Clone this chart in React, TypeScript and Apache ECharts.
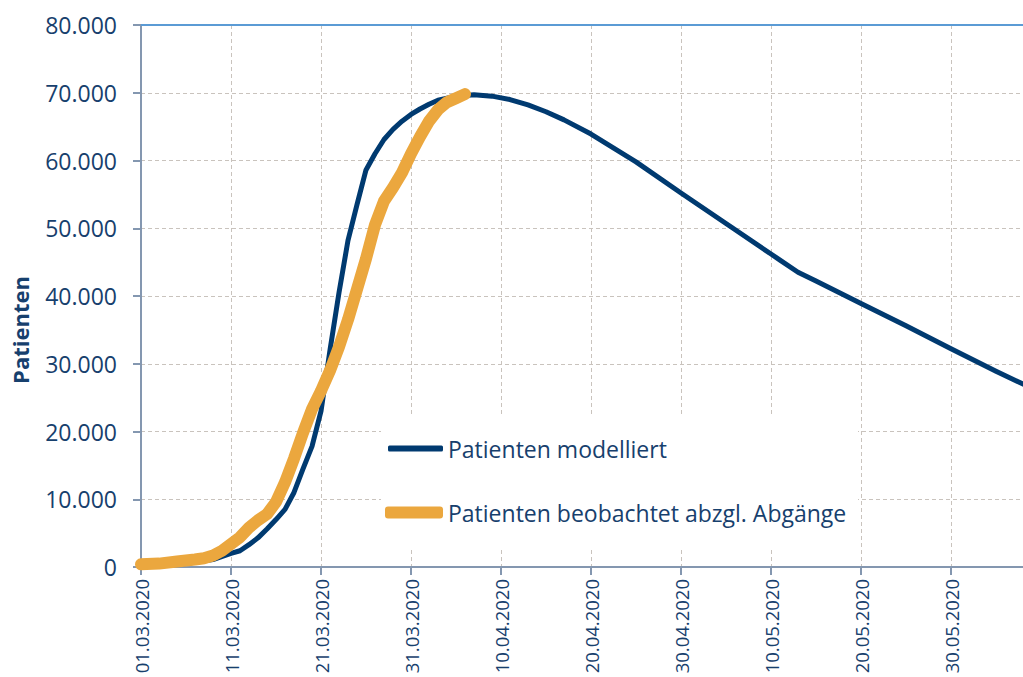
import React, { useEffect, useRef } from "react";
import * as echarts from "echarts";

// Day offsets from 01.03.2020
const modelDays = [0, 5, 8, 10, 11, 12, 13, 14, 15, 16, 17, 18, 19, 20, 21, 22, 23, 24, 25, 26, 27, 28, 29, 30, 31, 32, 33, 35, 37, 39, 41, 43, 45, 47, 50, 55, 60, 65, 70, 71, 73, 75, 80, 85, 90, 95, 98];
const modelValues = [100, 500, 1100, 2000, 2400, 3300, 4300, 5600, 7000, 8500, 11000, 14500, 17800, 23000, 32000, 40500, 48200, 53500, 58600, 61000, 63100, 64600, 65800, 66800, 67600, 68300, 68900, 69500, 69700, 69500, 69000, 68200, 67200, 66000, 63900, 59800, 55200, 50700, 46200, 45300, 43500, 42200, 38900, 35600, 32200, 28900, 27000];

const observedDays = [0, 2, 4, 6, 7, 8, 9, 10, 11, 12, 13, 14, 15, 16, 17, 18, 19, 20, 21, 22, 23, 24, 25, 26, 27, 28, 29, 30, 31, 32, 33, 34, 35, 36];
const observedValues = [400, 500, 800, 1100, 1300, 1700, 2400, 3400, 4400, 5800, 6900, 7800, 9600, 12500, 16000, 19800, 23300, 26000, 29000, 32500, 36500, 41000, 45500, 50500, 54000, 56000, 58200, 61000, 63500, 65800, 67500, 68600, 69200, 69800];

const seriesNames = ["Patienten modelliert", "Patienten beobachtet abzgl. Abgänge"];
const yAxisName = "Patienten";
const startDate = Date.UTC(2020, 2, 1);
const xMaxDay = 98;
const tickStepDays = 10;
const yMax = 80000;
const yStep = 10000;

const FONT = "'Open Sans', sans-serif";
const TEXT = "#17406d";
const AXIS = "#8497b0";
const GRID = "#c9c3bd";

function dayLabel(d: number): string {
  const dt = new Date(startDate + d * 86400000);
  const dd = String(dt.getUTCDate()).padStart(2, "0");
  const mm = String(dt.getUTCMonth() + 1).padStart(2, "0");
  return `${dd}.${mm}.${dt.getUTCFullYear()}`;
}

function fmtThousands(v: number): string {
  return String(v).replace(/\B(?=(\d{3})+(?!\d))/g, ".");
}

export default function App() {
  const ref = useRef<HTMLDivElement>(null);
  useEffect(() => {
    if (!ref.current) return;
    const chart = echarts.init(ref.current, null, { renderer: "svg" });
    chart.setOption({
      animation: false,
      backgroundColor: "#ffffff",
      grid: {
        left: 141,
        right: 0,
        top: 25,
        bottom: 110,
        containLabel: false,
        outerBoundsMode: "none",
      },
      xAxis: {
        type: "value",
        min: 0,
        max: xMaxDay,
        interval: tickStepDays,
        axisLine: { show: true, lineStyle: { color: AXIS, width: 2 } },
        axisTick: { show: true, length: 8, lineStyle: { color: AXIS, width: 2 } },
        splitLine: { show: true, lineStyle: { color: GRID, type: [4, 3], width: 1 } },
        axisLabel: {
          rotate: 90,
          margin: 12,
          showMaxLabel: false,
          color: TEXT,
          fontFamily: FONT,
          fontSize: 18.5,
          formatter: (v: number) => (v % tickStepDays === 0 ? dayLabel(v) : ""),
        },
      },
      yAxis: {
        type: "value",
        min: 0,
        max: yMax,
        interval: yStep,
        axisLine: { show: true, lineStyle: { color: AXIS, width: 2 } },
        axisTick: { show: true, length: 8, lineStyle: { color: AXIS, width: 2 } },
        splitLine: { show: true, lineStyle: { color: GRID, type: [4, 3], width: 1 } },
        axisLabel: {
          margin: 24,
          color: TEXT,
          fontFamily: FONT,
          fontSize: 23,
          formatter: (v: number) => fmtThousands(v),
        },
      },
      legend: [
        {
          data: [{ name: seriesNames[0], icon: "roundRect" }],
          left: 388,
          top: 437,
          padding: 0,
          itemWidth: 55,
          itemHeight: 6,
          itemGap: 5,
          selectedMode: false,
          textStyle: { color: TEXT, fontFamily: FONT, fontSize: 23 },
        },
        {
          data: [{ name: seriesNames[1], icon: "roundRect" }],
          left: 385,
          top: 501,
          padding: 0,
          itemWidth: 58,
          itemHeight: 12,
          itemGap: 5,
          selectedMode: false,
          textStyle: { color: TEXT, fontFamily: FONT, fontSize: 23 },
        },
      ],
      graphic: [
        {
          type: "rect",
          z: 1,
          shape: { x: 381, y: 415, width: 477, height: 132 },
          style: { fill: "#ffffff" },
        },
        {
          type: "text",
          x: 20,
          y: 330,
          rotation: Math.PI / 2,
          z: 5,
          style: {
            text: yAxisName,
            fill: TEXT,
            font: `bold 22px ${FONT}`,
            align: "center",
            verticalAlign: "middle",
          },
        },
      ],
      series: [
        {
          name: seriesNames[0],
          type: "line",
          data: modelDays.map((d, i) => [d, modelValues[i]]),
          showSymbol: false,
          symbol: "none",
          color: "#003a70",
          lineStyle: { color: "#003a70", width: 5, cap: "round", join: "round" },
          z: 3,
          markLine: {
            silent: true,
            symbol: "none",
            label: { show: false },
            lineStyle: { color: "#5b9bd5", type: "solid", width: 2 },
            data: [{ yAxis: yMax }],
          },
        },
        {
          name: seriesNames[1],
          type: "line",
          data: observedDays.map((d, i) => [d, observedValues[i]]),
          showSymbol: false,
          symbol: "none",
          color: "#eba73e",
          lineStyle: { color: "#eba73e", width: 12, cap: "round", join: "round" },
          z: 4,
        },
      ],
    });
    return () => chart.dispose();
  }, []);
  return (
    <div
      ref={ref}
      style={{ position: "absolute", left: 0, top: 0, width: 1023, height: 677 }}
    />
  );
}
